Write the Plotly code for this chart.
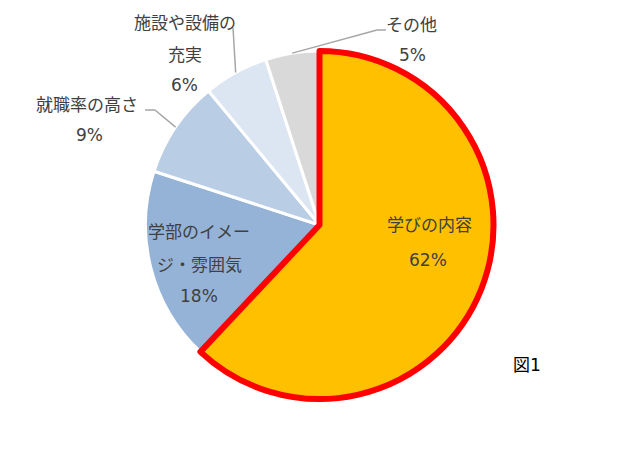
import math
import plotly.graph_objects as go

# data
labels = ["学びの内容", "学部のイメージ・雰囲気", "就職率の高さ", "施設や設備の充実", "その他"]
values = [62, 18, 9, 6, 5]
colors = ["#FFC000", "#95B3D7", "#B9CDE5", "#DCE6F2", "#D9D9D9"]

W, H = 633, 450
CX, CY, R = 319.5, 225, 174  # pie centre / radius in px

FONT = "DejaVu Sans, Noto Sans CJK JP"
TXT = "#404040"


def px(x, y):
    return x / W, 1 - y / H


fig = go.Figure()

dom = dict(x=[(CX - R) / W, (CX + R) / W], y=[1 - (CY + R) / H, 1 - (CY - R) / H])

fig.add_trace(go.Pie(
    labels=labels, values=values, sort=False, direction="clockwise",
    marker=dict(colors=colors, line=dict(color="white", width=3)),
    textinfo="none", hoverinfo="label+percent", domain=dom, showlegend=False,
))

# overlay: red outline only on the first slice
fig.add_trace(go.Pie(
    labels=labels, values=values, sort=False, direction="clockwise",
    marker=dict(colors=[colors[0]] + ["rgba(0,0,0,0)"] * 4,
                line=dict(color=["#FF0000"] + ["rgba(0,0,0,0)"] * 4,
                          width=[6, 0, 0, 0, 0])),
    textinfo="none", hoverinfo="skip", domain=dom, showlegend=False,
))

# label text lines (px positions of each line)
label_lines = [
    [("学びの内容", 429, 225), ("62%", 428, 260)],
    [("学部のイメー", 199, 232), ("ジ・雰囲気", 199, 265), ("18%", 199, 296)],
    [("就職率の高さ", 87, 105), ("9%", 89, 135)],
    [("施設や設備の", 185, 23), ("充実", 185, 55), ("6%", 184, 85)],
    [("その他", 411, 25), ("5%", 412, 55)],
]

annotations = []
for lines in label_lines:
    for t, x, y in lines:
        xx, yy = px(x, y)
        annotations.append(dict(text=t, x=xx, y=yy, xref="paper", yref="paper",
                                showarrow=False, xanchor="center", yanchor="middle",
                                font=dict(family=FONT, size=17, color=TXT)))

xx, yy = px(527, 365)
annotations.append(dict(text="図1", x=xx, y=yy, xref="paper", yref="paper",
                        showarrow=False, xanchor="center", yanchor="middle",
                        font=dict(family=FONT, size=17, color="#000000")))

# leader lines: slice edge -> elbow -> end (px)
leaders = {2: [(155, 110), (145, 110)], 3: [(233, 28), (233, 28)], 4: [(377, 30), (386, 30)]}
total = sum(values)
cum = [sum(values[:i]) for i in range(len(values))]
shapes = []
for i, (elbow, end) in leaders.items():
    a = math.radians((cum[i] + values[i] / 2) / total * 360)
    sx, sy = CX + R * math.sin(a), CY - R * math.cos(a)
    for (x0, y0), (x1, y1) in [((sx, sy), elbow), (elbow, end)]:
        if (x0, y0) == (x1, y1):
            continue
        a0, b0 = px(x0, y0)
        a1, b1 = px(x1, y1)
        shapes.append(dict(type="line", xref="paper", yref="paper", x0=a0, y0=b0, x1=a1, y1=b1,
                           line=dict(color="#A6A6A6", width=1.5)))

fig.update_layout(
    width=W, height=H,
    margin=dict(l=0, r=0, t=0, b=0),
    paper_bgcolor="white", plot_bgcolor="white",
    annotations=annotations, shapes=shapes,
    showlegend=False,
)

# drop the default body margin so the figure sits at the page origin
fig.write_html("out.html", config={"displayModeBar": False},
               post_script="document.body.style.margin='0';")
